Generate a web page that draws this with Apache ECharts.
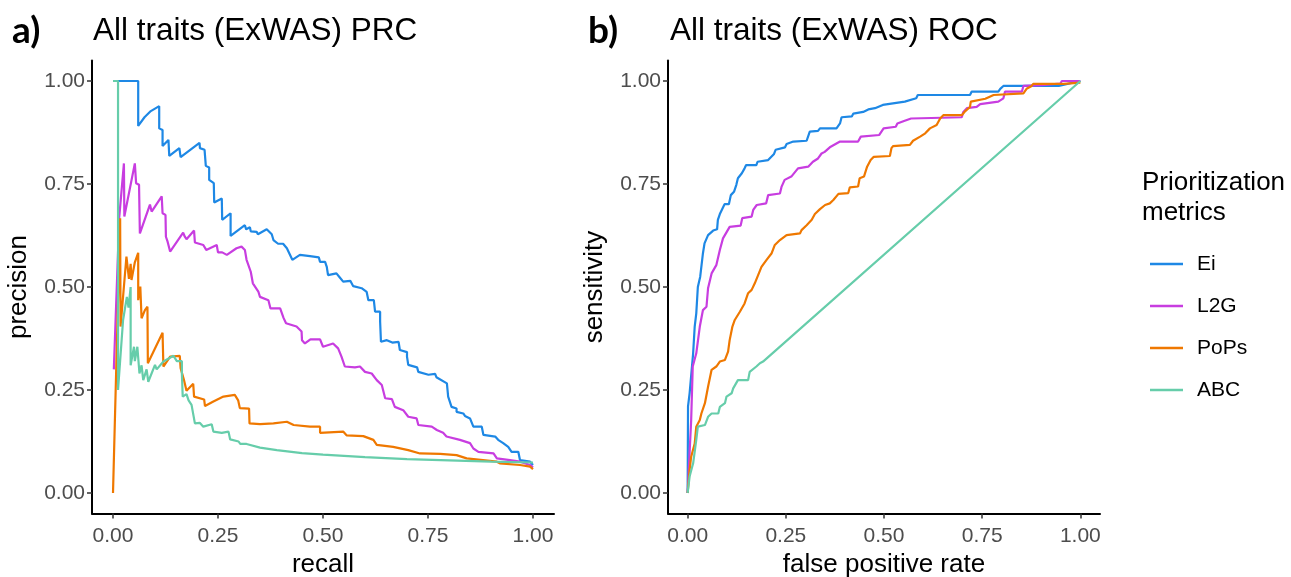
<!DOCTYPE html>
<html>
<head>
<meta charset="utf-8">
<script src="https://cdn.jsdelivr.net/npm/echarts@6/dist/echarts.min.js"></script>
<style>html,body{margin:0;padding:0;background:#fff}#c{width:1291px;height:577px}</style>
</head>
<body>
<div id="c"></div>
<script>
// ---------- data ----------
const metricNames = ['Ei', 'L2G', 'PoPs', 'ABC'];
const metricColors = ['#1E88E5', '#C83DE0', '#EF7800', '#66CDAA'];
const tickValues = [0, 0.25, 0.5, 0.75, 1];
const panelTitles = ['All traits (ExWAS) PRC', 'All traits (ExWAS) ROC'];
const panelTags = ['a)', 'b)'];
const axisTitles = {prcX: 'recall', prcY: 'precision', rocX: 'false positive rate', rocY: 'sensitivity'};
const legendTitle = 'Prioritization\nmetrics';

// PRC: [recall, precision]
const prcEi = [[0,1],[0.06,1],[0.06,0.891],[0.075,0.912],[0.09,0.927],[0.11,0.939],[0.11,0.885],[0.118,0.881],[0.118,0.842],[0.132,0.857],[0.134,0.818],[0.158,0.837],[0.161,0.815],[0.206,0.85],[0.207,0.837],[0.218,0.833],[0.221,0.794],[0.229,0.79],[0.229,0.76],[0.24,0.752],[0.241,0.705],[0.259,0.715],[0.26,0.663],[0.28,0.679],[0.28,0.624],[0.314,0.65],[0.317,0.64],[0.326,0.645],[0.328,0.635],[0.342,0.634],[0.345,0.628],[0.366,0.64],[0.378,0.628],[0.382,0.614],[0.393,0.605],[0.405,0.605],[0.414,0.594],[0.427,0.566],[0.445,0.578],[0.469,0.575],[0.49,0.572],[0.493,0.561],[0.505,0.561],[0.509,0.549],[0.512,0.529],[0.532,0.533],[0.54,0.523],[0.548,0.513],[0.565,0.515],[0.572,0.502],[0.592,0.497],[0.604,0.488],[0.608,0.468],[0.621,0.468],[0.624,0.44],[0.636,0.44],[0.636,0.416],[0.638,0.367],[0.652,0.371],[0.665,0.365],[0.68,0.367],[0.683,0.347],[0.7,0.342],[0.7,0.331],[0.703,0.311],[0.724,0.305],[0.727,0.294],[0.751,0.287],[0.767,0.289],[0.77,0.281],[0.795,0.266],[0.798,0.234],[0.806,0.209],[0.818,0.205],[0.818,0.197],[0.834,0.193],[0.838,0.187],[0.85,0.181],[0.858,0.161],[0.878,0.161],[0.882,0.141],[0.91,0.137],[0.917,0.129],[0.929,0.121],[0.941,0.112],[0.949,0.1],[0.965,0.1],[0.969,0.08],[0.993,0.076],[1,0.068]];
const prcL2G = [[0.002,0.3],[0.015,0.671],[0.026,0.8],[0.027,0.671],[0.052,0.8],[0.055,0.752],[0.062,0.748],[0.063,0.687],[0.064,0.63],[0.088,0.7],[0.092,0.683],[0.116,0.72],[0.118,0.679],[0.125,0.675],[0.126,0.622],[0.13,0.61],[0.136,0.586],[0.167,0.632],[0.171,0.622],[0.175,0.616],[0.193,0.637],[0.195,0.608],[0.215,0.602],[0.222,0.59],[0.247,0.602],[0.25,0.584],[0.26,0.584],[0.271,0.578],[0.294,0.594],[0.306,0.598],[0.314,0.59],[0.318,0.566],[0.328,0.537],[0.333,0.509],[0.346,0.489],[0.35,0.476],[0.37,0.468],[0.375,0.448],[0.398,0.448],[0.406,0.425],[0.412,0.412],[0.437,0.404],[0.449,0.392],[0.45,0.371],[0.457,0.363],[0.47,0.373],[0.493,0.373],[0.5,0.355],[0.524,0.363],[0.536,0.351],[0.544,0.331],[0.552,0.307],[0.576,0.305],[0.588,0.307],[0.6,0.294],[0.616,0.29],[0.628,0.274],[0.64,0.262],[0.648,0.23],[0.664,0.228],[0.671,0.209],[0.691,0.201],[0.703,0.185],[0.723,0.181],[0.727,0.165],[0.759,0.161],[0.771,0.153],[0.786,0.146],[0.794,0.137],[0.826,0.129],[0.85,0.121],[0.858,0.108],[0.87,0.1],[0.906,0.096],[0.914,0.084],[0.945,0.08],[0.969,0.076],[0.993,0.068],[1,0.062]];
const prcPoPs = [[0,0],[0.017,0.667],[0.018,0.404],[0.032,0.574],[0.038,0.52],[0.042,0.556],[0.044,0.517],[0.052,0.56],[0.06,0.583],[0.06,0.468],[0.063,0.493],[0.065,0.501],[0.068,0.424],[0.076,0.444],[0.082,0.452],[0.083,0.315],[0.118,0.389],[0.12,0.307],[0.136,0.331],[0.159,0.333],[0.161,0.303],[0.169,0.274],[0.175,0.248],[0.191,0.265],[0.193,0.234],[0.217,0.227],[0.219,0.211],[0.239,0.222],[0.263,0.234],[0.29,0.238],[0.298,0.225],[0.302,0.206],[0.324,0.205],[0.325,0.169],[0.35,0.167],[0.382,0.169],[0.414,0.173],[0.43,0.165],[0.469,0.161],[0.493,0.161],[0.493,0.146],[0.548,0.149],[0.556,0.14],[0.596,0.138],[0.62,0.129],[0.628,0.117],[0.667,0.112],[0.703,0.104],[0.731,0.096],[0.779,0.095],[0.818,0.092],[0.842,0.084],[0.914,0.076],[0.921,0.072],[0.969,0.068],[0.993,0.064],[1,0.058]];
const prcABC = [[0,1],[0.012,1],[0.012,0.25],[0.024,0.42],[0.033,0.476],[0.037,0.45],[0.042,0.5],[0.042,0.31],[0.05,0.355],[0.052,0.32],[0.058,0.355],[0.063,0.29],[0.068,0.31],[0.072,0.274],[0.08,0.3],[0.084,0.27],[0.1,0.311],[0.104,0.3],[0.12,0.319],[0.144,0.333],[0.152,0.32],[0.164,0.32],[0.164,0.29],[0.166,0.234],[0.175,0.24],[0.18,0.225],[0.187,0.214],[0.195,0.169],[0.207,0.17],[0.215,0.161],[0.235,0.167],[0.239,0.149],[0.259,0.146],[0.275,0.149],[0.279,0.13],[0.299,0.125],[0.303,0.119],[0.318,0.119],[0.35,0.11],[0.39,0.104],[0.45,0.097],[0.5,0.093],[0.6,0.087],[0.7,0.082],[0.8,0.079],[0.9,0.076],[1,0.074]];

// ROC: [false positive rate, sensitivity]
const rocEi = [[0,0],[0.001,0.21],[0.005,0.242],[0.014,0.339],[0.018,0.404],[0.022,0.436],[0.026,0.5],[0.032,0.525],[0.039,0.582],[0.043,0.606],[0.052,0.626],[0.065,0.637],[0.075,0.64],[0.077,0.663],[0.082,0.677],[0.094,0.701],[0.105,0.701],[0.11,0.723],[0.118,0.731],[0.124,0.748],[0.128,0.764],[0.138,0.776],[0.145,0.788],[0.149,0.796],[0.175,0.796],[0.178,0.804],[0.205,0.808],[0.22,0.823],[0.224,0.833],[0.248,0.839],[0.252,0.847],[0.269,0.853],[0.303,0.855],[0.311,0.877],[0.332,0.879],[0.337,0.885],[0.379,0.885],[0.388,0.897],[0.392,0.912],[0.418,0.914],[0.422,0.921],[0.447,0.925],[0.46,0.931],[0.477,0.934],[0.497,0.942],[0.553,0.95],[0.582,0.958],[0.586,0.966],[0.719,0.966],[0.723,0.974],[0.791,0.974],[0.796,0.981],[0.804,0.988],[0.945,0.988],[1,1]];
const rocL2G = [[0,0],[0.009,0.177],[0.013,0.307],[0.022,0.339],[0.031,0.404],[0.039,0.444],[0.048,0.452],[0.052,0.497],[0.061,0.533],[0.073,0.553],[0.082,0.59],[0.09,0.618],[0.107,0.646],[0.135,0.649],[0.139,0.667],[0.163,0.671],[0.167,0.687],[0.176,0.699],[0.2,0.703],[0.205,0.723],[0.235,0.727],[0.239,0.743],[0.247,0.76],[0.264,0.768],[0.281,0.788],[0.307,0.792],[0.319,0.804],[0.332,0.812],[0.341,0.824],[0.349,0.828],[0.362,0.839],[0.388,0.853],[0.434,0.853],[0.441,0.865],[0.488,0.869],[0.499,0.885],[0.53,0.889],[0.534,0.897],[0.551,0.903],[0.569,0.909],[0.698,0.912],[0.702,0.925],[0.711,0.934],[0.736,0.937],[0.745,0.944],[0.791,0.95],[0.804,0.958],[0.808,0.974],[0.851,0.974],[0.855,0.988],[0.902,0.99],[0.949,0.994],[0.953,1],[1,1]];
const rocPoPs = [[0,0],[0.005,0.056],[0.009,0.088],[0.018,0.12],[0.022,0.161],[0.031,0.177],[0.035,0.193],[0.044,0.218],[0.052,0.258],[0.061,0.299],[0.073,0.307],[0.082,0.319],[0.095,0.323],[0.103,0.343],[0.107,0.371],[0.114,0.404],[0.12,0.42],[0.133,0.44],[0.145,0.46],[0.154,0.485],[0.163,0.493],[0.171,0.509],[0.188,0.549],[0.201,0.566],[0.214,0.582],[0.222,0.602],[0.235,0.614],[0.252,0.626],[0.286,0.63],[0.29,0.638],[0.303,0.65],[0.316,0.663],[0.324,0.677],[0.337,0.689],[0.35,0.699],[0.362,0.703],[0.371,0.711],[0.384,0.726],[0.409,0.728],[0.413,0.742],[0.434,0.744],[0.438,0.764],[0.449,0.768],[0.457,0.792],[0.466,0.808],[0.474,0.816],[0.515,0.818],[0.519,0.837],[0.523,0.842],[0.566,0.845],[0.574,0.855],[0.592,0.865],[0.605,0.873],[0.617,0.885],[0.634,0.893],[0.643,0.909],[0.651,0.917],[0.698,0.917],[0.707,0.927],[0.719,0.937],[0.721,0.95],[0.758,0.957],[0.762,0.96],[0.779,0.966],[0.855,0.97],[0.863,0.981],[0.876,0.988],[0.88,0.993],[0.957,0.993],[1,0.996]];
const rocABC = [[0,0],[0.005,0.04],[0.014,0.072],[0.022,0.129],[0.026,0.161],[0.044,0.165],[0.052,0.185],[0.061,0.193],[0.078,0.193],[0.082,0.209],[0.095,0.218],[0.099,0.234],[0.112,0.242],[0.116,0.254],[0.128,0.274],[0.154,0.274],[0.158,0.294],[0.175,0.307],[0.184,0.315],[0.192,0.319],[1,1]];

const prcData = [prcEi, prcL2G, prcPoPs, prcABC];
const rocData = [rocEi, rocL2G, rocPoPs, rocABC];

// ---------- chart ----------
const FONT = '"Liberation Sans", Arial, Helvetica, sans-serif';
const chart = echarts.init(document.getElementById('c'), null, {renderer: 'canvas'});

function makeAxis(gridIndex, name, isX) {
  return {
    type: 'value', gridIndex: gridIndex, min: -0.05, max: 1.05,
    name: name, nameLocation: 'middle', nameGap: isX ? 38 : 60,
    nameTextStyle: {fontFamily: FONT, fontSize: 26, color: '#000'},
    axisLine: {show: true, onZero: false, lineStyle: {color: '#000', width: 2}},
    axisTick: {show: true, length: 5, customValues: tickValues, lineStyle: {color: '#333', width: 1.5}},
    axisLabel: {show: true, customValues: tickValues, formatter: v => v.toFixed(2),
      fontFamily: FONT, fontSize: 21, color: '#4d4d4d', margin: isX ? 12 : 7},
    splitLine: {show: false}
  };
}

const series = [];
metricNames.forEach((n, i) => {
  series.push({name: n, type: 'line', xAxisIndex: 0, yAxisIndex: 0, data: prcData[i],
    symbol: 'none', lineStyle: {width: 2.2, color: metricColors[i]}, itemStyle: {color: metricColors[i]}, z: 2 + i});
});
metricNames.forEach((n, i) => {
  series.push({name: n, type: 'line', xAxisIndex: 1, yAxisIndex: 1, data: rocData[i],
    symbol: 'none', lineStyle: {width: 2.2, color: metricColors[i]}, itemStyle: {color: metricColors[i]}, z: 2 + i});
});

chart.setOption({
  animation: false,
  backgroundColor: '#fff',
  grid: [
    {left: 92, top: 60.4, width: 462, height: 453.2, containLabel: false, outerBoundsMode: 'none'},
    {left: 668, top: 60.4, width: 432, height: 453.2, containLabel: false, outerBoundsMode: 'none'}
  ],
  xAxis: [makeAxis(0, axisTitles.prcX, true), makeAxis(1, axisTitles.rocX, true)],
  yAxis: [makeAxis(0, axisTitles.prcY, false), makeAxis(1, axisTitles.rocY, false)],
  legend: {
    orient: 'vertical', left: 1145, top: 247, icon: 'rect', itemWidth: 33, itemHeight: 2.6, itemGap: 18,
    data: metricNames,
    textStyle: {fontFamily: FONT, fontSize: 21, lineHeight: 24, color: '#000', padding: [0, 0, 0, 9]}
  },
  graphic: [
    {type: 'text', left: 12, top: 13, style: {text: panelTags[0], font: 'bold 37px Lato, "Open Sans", sans-serif', fill: '#000'}},
    {type: 'text', left: 588, top: 13, style: {text: panelTags[1], font: 'bold 37px Lato, "Open Sans", sans-serif', fill: '#000'}},
    {type: 'text', left: 93, top: 15, style: {text: panelTitles[0], font: '31.5px ' + FONT, fill: '#000'}},
    {type: 'text', left: 670, top: 15, style: {text: panelTitles[1], font: '31.5px ' + FONT, fill: '#000'}},
    {type: 'text', left: 1142, top: 168, style: {text: legendTitle, font: '26px ' + FONT, fill: '#000', lineHeight: 30}}
  ],
  series: series
});
</script>
</body>
</html>
